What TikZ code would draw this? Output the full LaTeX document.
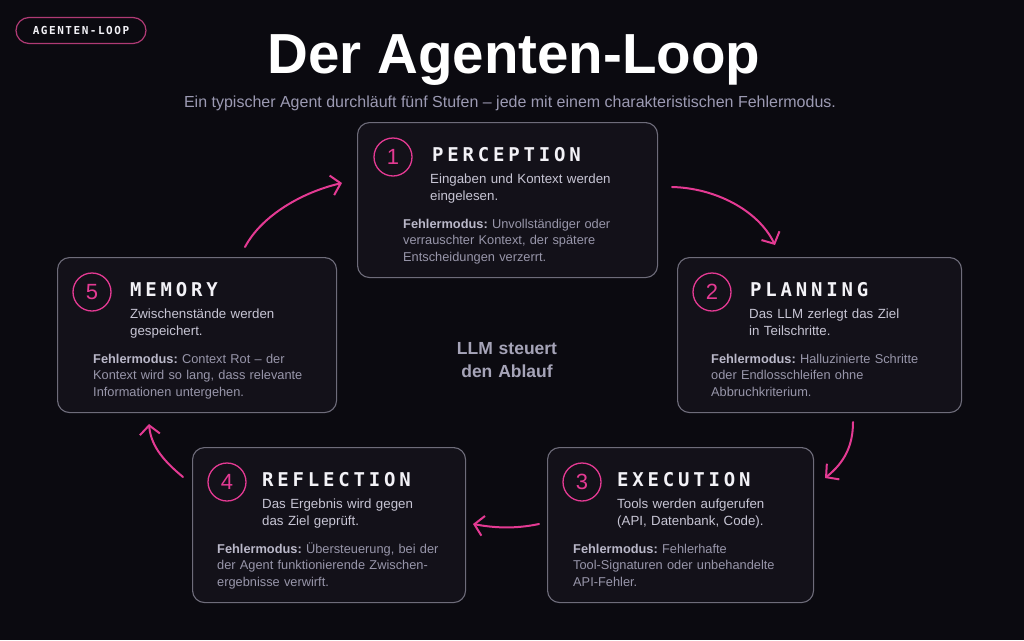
\documentclass[tikz,border=0pt]{standalone}
\usepackage{fontspec}
\setmainfont{Liberation Sans}
\newfontfamily\headfont[LetterSpace=20]{DejaVu Sans Mono}
\newfontfamily\badgefont[LetterSpace=14]{DejaVu Sans Mono}
\usetikzlibrary{arrows.meta}
\definecolor{cBg}{HTML}{0B0A10}
\definecolor{cCard}{HTML}{131119}
\definecolor{cLine}{HTML}{6E6C7A}
\definecolor{cPink}{HTML}{E43A93}
\definecolor{cHead}{HTML}{F3F2F7}
\definecolor{cDesc}{HTML}{C7C5D4}
\definecolor{cFLabel}{HTML}{BAB8C9}
\definecolor{cFText}{HTML}{9896AA}
\definecolor{cSub}{HTML}{9C9AB3}
\definecolor{cMid}{HTML}{A6A4B8}
\definecolor{cBadge}{HTML}{B03A75}
\newcommand{\fm}{\textcolor{cFLabel}{\bfseries Fehlermodus:}\ }
\begin{document}
\begin{tikzpicture}[x=1pt,y=-1pt,
  card/.style={draw=cLine, line width=1.1pt, fill=cCard, rounded corners=12pt, inner sep=0pt, anchor=north west},
  numc/.style={circle, draw=cPink, line width=1.3pt, minimum size=38pt, inner sep=0pt, text=cPink, font=\fontsize{22}{22}\selectfont},
  heading/.style={anchor=base west, inner sep=0pt, text=cHead, font=\headfont\bfseries\fontsize{19}{19}\selectfont},
  desc/.style={anchor=base west, inner sep=0pt, align=left, text=cDesc, font=\fontsize{13.3}{17}\selectfont},
  fmode/.style={anchor=base west, inner sep=0pt, align=left, text=cFText, font=\fontsize{12.8}{16.5}\selectfont},
  arr/.style={draw=cPink, line width=2pt, line cap=round, -{Straight Barb[length=9pt,width=20pt,line width=2pt]}}
]
\useasboundingbox (0,0) rectangle (1024,640);
\fill[cBg] (0,0) rectangle (1024,640);

% badge
\node[draw=cBadge, line width=1.2pt, rounded corners=13pt, minimum width=130pt, minimum height=26pt, inner sep=0pt,
      text=cHead, font=\badgefont\bfseries\fontsize{11}{11}\selectfont] (badge) at (81,30.5) {AGENTEN-LOOP};

% title
\node[anchor=base, inner sep=0pt, text=white, font=\bfseries\fontsize{56.5}{56.5}\selectfont] (title) at (514,73) {Der Agenten-Loop};
\node[anchor=base, inner sep=0pt, text=cSub, font=\fontsize{16}{16}\selectfont] (subtitle) at (510,107)
  {Ein typischer Agent durchläuft fünf Stufen – jede mit einem charakteristischen Fehlermodus.};

% 1 Perception
\node[card, minimum width=300pt, minimum height=155pt] (p1) at (357,122) {};
\node[numc] (c1) at (393,157) {1};
\node[heading] (h1) at (432,161) {PERCEPTION};
\node[desc, text width=215pt] (d1) at (430,183) {Eingaben und Kontext werden\\eingelesen.};
\node[fmode, text width=244pt] (f1) at (403,228) {\fm Unvollständiger oder\\verrauschter Kontext, der spätere\\Entscheidungen verzerrt.};

% 2 Planning
\node[card, minimum width=284pt, minimum height=155pt] (p2) at (677,257) {};
\node[numc] (c2) at (712,292) {2};
\node[heading] (h2) at (750,296) {PLANNING};
\node[desc, text width=200pt] (d2) at (749,318) {Das LLM zerlegt das Ziel\\in Teilschritte.};
\node[fmode, text width=240pt] (f2) at (711,363) {\fm Halluzinierte Schritte\\oder Endlosschleifen ohne\\Abbruchkriterium.};

% 5 Memory
\node[card, minimum width=279pt, minimum height=155pt] (p5) at (57,257) {};
\node[numc] (c5) at (92,292) {5};
\node[heading] (h5) at (130,296) {MEMORY};
\node[desc, text width=195pt] (d5) at (130,318) {Zwischenstände werden\\gespeichert.};
\node[fmode, text width=235pt] (f5) at (93,363) {\fm Context Rot – der\\Kontext wird so lang, dass relevante\\Informationen untergehen.};

% 3 Execution
\node[card, minimum width=266pt, minimum height=155pt] (p3) at (547,447) {};
\node[numc] (c3) at (582,482) {3};
\node[heading] (h3) at (617,486) {EXECUTION};
\node[desc, text width=185pt] (d3) at (617,508) {Tools werden aufgerufen\\(API, Datenbank, Code).};
\node[fmode, text width=230pt] (f3) at (573,553) {\fm Fehlerhafte\\Tool-Signaturen oder unbehandelte\\API-Fehler.};

% 4 Reflection
\node[card, minimum width=273pt, minimum height=155pt] (p4) at (192,447) {};
\node[numc] (c4) at (227,482) {4};
\node[heading] (h4) at (262,486) {REFLECTION};
\node[desc, text width=195pt] (d4) at (262,508) {Das Ergebnis wird gegen\\das Ziel geprüft.};
\node[fmode, text width=240pt] (f4) at (217,553) {\fm Übersteuerung, bei der\\der Agent funktionierende Zwischen-\\ergebnisse verwirft.};

% centre
\node[align=center, text width=140pt, inner sep=0pt, anchor=base, text=cMid, font=\bfseries\fontsize{17.5}{23}\selectfont] (llm) at (507,354) {LLM steuert\\den Ablauf};

% arrows
\coordinate (a1s) at (245,247); \coordinate (a1e) at (342,183);
\coordinate (a2s) at (672,187); \coordinate (a2e) at (775,245);
\coordinate (a3s) at (853,422); \coordinate (a3e) at (825,478);
\coordinate (a4s) at (539,524); \coordinate (a4e) at (473,524);
\coordinate (a5s) at (183,477); \coordinate (a5e) at (149,424);
\draw[arr] (a1s) .. controls (262,215) and (303,192) .. (a1e);
\draw[arr] (a2s) .. controls (715,188) and (758,210) .. (a2e);
\draw[arr] (a3s) .. controls (853,445) and (845,462) .. (a3e);
\draw[arr] (a4s) .. controls (515,529) and (495,528) .. (a4e);
\draw[arr] (a5s) .. controls (165,462) and (151,447) .. (a5e);
\end{tikzpicture}
\end{document}
